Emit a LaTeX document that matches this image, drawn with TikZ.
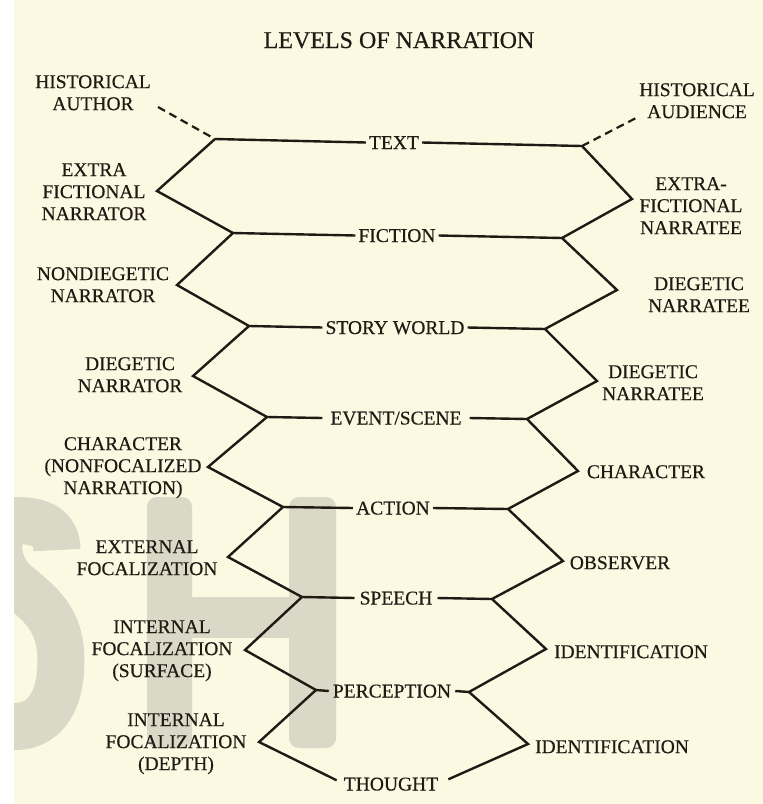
\documentclass[tikz,border=0pt]{standalone}
\usepackage{fontspec}
\setmainfont{Liberation Serif}[UprightFeatures={FakeBold=0.4}]
\definecolor{ink}{RGB}{35,25,20}
\definecolor{paper}{RGB}{252,249,226}
\definecolor{wmark}{RGB}{218,216,198}
\newcommand\lblfont{\fontsize{19.5}{22}\selectfont}
\newcommand\ttlfont{\fontsize{24}{28}\selectfont}
\tikzset{
  sidelab/.style={font=\lblfont, align=center, inner sep=0pt, anchor=north, text=ink},
  rowlab/.style={font=\lblfont, inner ysep=0pt, inner xsep=3pt, text height=13pt, text depth=0pt, anchor=center, text=ink},
  zig/.style={draw=ink, line width=2.4pt, line join=miter, line cap=butt},
  dashline/.style={draw=ink, line width=2.2pt, dash pattern=on 8pt off 5pt},
}
\begin{document}
\begin{tikzpicture}[x=1pt,y=-1pt]
\useasboundingbox (0,0) rectangle (763,804);
% paper
\fill[paper] (0,0) rectangle (763,804);
\fill[white] (0,0) rectangle (14,804);
% watermark
\begin{scope}
  \clip (14,497) rectangle (110,760);
  \draw[wmark, line width=47pt] (57,550) .. controls (57,528) and (40,520.5) .. (18,520.5)
     .. controls (-5,520.5) and (-8,560) .. (12,580)
     .. controls (30,598) and (61,612) .. (61,660)
     .. controls (61,708) and (40,726.5) .. (15,726.5) -- (-30,726.5);
\end{scope}
\fill[wmark, rounded corners=10pt] (147,497) rectangle (192,748);
\fill[wmark, rounded corners=10pt] (289,497) rectangle (336,748);
\fill[wmark] (190,597) rectangle (291,638);

% title
\node[font=\ttlfont, text=ink, inner sep=0pt, text height=16pt, text depth=0pt] (title) at (399,40) {LEVELS OF NARRATION};

% row labels
\node[rowlab] (tx) at (394,142.5) {TEXT};
\node[rowlab] (fi) at (397,235.5) {FICTION};
\node[rowlab] (sw) at (395,327.5) {STORY WORLD};
\node[rowlab, inner xsep=8pt] (ev) at (396,418) {EVENT/SCENE};
\node[rowlab] (ac) at (393,508) {ACTION};
\node[rowlab, inner xsep=5pt] (sp) at (396,598) {SPEECH};
\node[rowlab, inner xsep=4pt] (pe) at (392,691) {PERCEPTION};
\node[rowlab] (th) at (391,784) {THOUGHT};

% side labels (left)
\node[sidelab] (hau) at (93,75) {HISTORICAL\\AUTHOR};
\node[sidelab] (efn) at (94,163) {EXTRA\\FICTIONAL\\NARRATOR};
\node[sidelab] (ndn) at (103,267) {NONDIEGETIC\\NARRATOR};
\node[sidelab] (dn) at (130,357) {DIEGETIC\\NARRATOR};
\node[sidelab] (chn) at (123,437) {CHARACTER\\(NONFOCALIZED\\NARRATION)};
\node[sidelab] (ef) at (147,540) {EXTERNAL\\FOCALIZATION};
\node[sidelab] (ifs) at (162,620) {INTERNAL\\FOCALIZATION\\(SURFACE)};
\node[sidelab] (ifd) at (176,713) {INTERNAL\\FOCALIZATION\\(DEPTH)};

% side labels (right)
\node[sidelab] (haud) at (697,83) {HISTORICAL\\AUDIENCE};
\node[sidelab] (efe) at (691,177) {EXTRA-\\FICTIONAL\\NARRATEE};
\node[sidelab] (dne1) at (699,277) {DIEGETIC\\NARRATEE};
\node[sidelab] (dne2) at (653,365) {DIEGETIC\\NARRATEE};
\node[sidelab] (chr) at (646,465) {CHARACTER};
\node[sidelab] (obs) at (620,556) {OBSERVER};
\node[sidelab] (id1) at (631,645) {IDENTIFICATION};
\node[sidelab] (id2) at (612,740) {IDENTIFICATION};

% vertices left
\coordinate (L0) at (215,139);
\coordinate (Lv1) at (157,191);
\coordinate (L1) at (233,233);
\coordinate (Lv2) at (177,285);
\coordinate (L2) at (249,326);
\coordinate (Lv3) at (193,376);
\coordinate (L3) at (267,417);
\coordinate (Lv4) at (208,467);
\coordinate (L4) at (283,507);
\coordinate (Lv5) at (228,557);
\coordinate (L5) at (302,597);
\coordinate (Lv6) at (245,650);
\coordinate (L6) at (316,690);
\coordinate (Lv7) at (259,742);
% vertices right
\coordinate (R0) at (582,146);
\coordinate (Rv1) at (632,199);
\coordinate (R1) at (562,238);
\coordinate (Rv2) at (617,290);
\coordinate (R2) at (545,329);
\coordinate (Rv3) at (597,381);
\coordinate (R3) at (527,419);
\coordinate (Rv4) at (578,471);
\coordinate (R4) at (508,509);
\coordinate (Rv5) at (563,561);
\coordinate (R5) at (492,599);
\coordinate (Rv6) at (546,649);
\coordinate (R6) at (469,692);
\coordinate (Rv7) at (528,744);
% dashed ends
\coordinate (dA) at (158,107);
\coordinate (dB) at (638,117);

% zigzags
\draw[zig] (L0) -- (Lv1) -- (L1) -- (Lv2) -- (L2) -- (Lv3) -- (L3) -- (Lv4) -- (L4) -- (Lv5) -- (L5) -- (Lv6) -- (L6) -- (Lv7) -- ([xshift=-4pt,yshift=-3pt]th.north west);
\draw[zig] (R0) -- (Rv1) -- (R1) -- (Rv2) -- (R2) -- (Rv3) -- (R3) -- (Rv4) -- (R4) -- (Rv5) -- (R5) -- (Rv6) -- (R6) -- (Rv7) -- ([xshift=7pt,yshift=-2pt]th.north east);

% horizontals
\draw[zig] (L0) -- (tx.west);  \draw[zig] (tx.east) -- (R0);
\draw[zig] (L1) -- (fi.west);  \draw[zig] (fi.east) -- (R1);
\draw[zig] (L2) -- (sw.west);  \draw[zig] (sw.east) -- (R2);
\draw[zig] (L3) -- (ev.west);  \draw[zig] (ev.east) -- (R3);
\draw[zig] (L4) -- (ac.west);  \draw[zig] (ac.east) -- (R4);
\draw[zig] (L5) -- (sp.west);  \draw[zig] (sp.east) -- (R5);
\draw[zig] (L6) -- (pe.west);  \draw[zig] (pe.east) -- (R6);

% dashed
\draw[dashline] (dA) -- (L0);
\draw[dashline] (R0) -- (dB);
\end{tikzpicture}
\end{document}
